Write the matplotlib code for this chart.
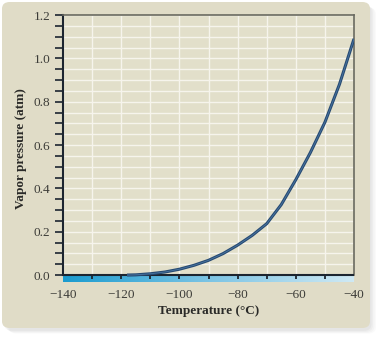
import matplotlib
matplotlib.use("Agg")
import matplotlib.pyplot as plt
import numpy as np
from matplotlib.patches import FancyBboxPatch
from matplotlib.colors import LinearSegmentedColormap

# Data
temps = [-118, -115, -110, -105, -100, -95, -90, -85, -80, -75, -70, -65, -60, -55, -50, -45, -40]
pressure = [0.0, 0.001, 0.006, 0.014, 0.027, 0.045, 0.068, 0.099, 0.138, 0.183, 0.237, 0.325, 0.44, 0.565, 0.705, 0.88, 1.09]
x_major = [-140, -120, -100, -80, -60, -40]
x_minor = [-140, -130, -120, -110, -100, -90, -80, -70, -60, -50, -40]
y_major = [0.0, 0.2, 0.4, 0.6, 0.8, 1.0, 1.2]
y_minor = list(np.round(np.arange(0, 1.2001, 0.05), 3))

W, H = 387, 338
fig = plt.figure(figsize=(W / 100, H / 100), dpi=100)
fig.patch.set_facecolor("white")

serif = ["Liberation Serif", "DejaVu Serif"]

# Shadow and panel
for i, a in enumerate([0.04, 0.05, 0.06, 0.07]):
    off = (4 - i) * 1.5
    sh = FancyBboxPatch(((3 + off) / W, 1 - (330 + off * 0.6) / H), (367) / W, (326) / H,
                        boxstyle="round,pad=0,rounding_size=0.02", transform=fig.transFigure,
                        facecolor="#888888", edgecolor="none", alpha=a, zorder=0)
    fig.patches.append(sh)
panel = FancyBboxPatch((2 / W, 1 - 328 / H), 368 / W, 326 / H,
                       boxstyle="round,pad=0,rounding_size=0.02", transform=fig.transFigure,
                       facecolor="#e0dcc7", edgecolor="none", zorder=1)
fig.patches.append(panel)

strip = 0.032
ax = fig.add_axes([63 / W, 1 - 282 / H, 291 / W, 267 / H])
ax.set_zorder(2)
ax.set_facecolor("#e2dfca")
ax.set_xlim(-140, -40)
ax.set_ylim(-strip, 1.2)

# Grid
for xv in x_minor:
    ax.axvline(xv, color="#f6f4ec", lw=1.0, zorder=1)
for yv in y_minor:
    ax.axhline(yv, color="#f6f4ec", lw=1.0, zorder=1)

# Gradient strip below zero
cmap = LinearSegmentedColormap.from_list("strip", ["#1a9bcf", "#7cc4e4", "#cfe9f4"])
grad = np.linspace(0, 1, 256).reshape(1, -1)
ax.imshow(grad, extent=[-140, -40, -strip, 0], aspect="auto", cmap=cmap, zorder=3)
ax.vlines(x_minor[1:-1], -strip * 0.55, 0, color="#1c2530", lw=1.3, zorder=4)
ax.axhline(0, color="#1c2530", lw=1.5, zorder=5)

# Curve
ax.plot(temps, pressure, color="#274a72", lw=2.2, zorder=6, solid_capstyle="butt",
        solid_joinstyle="round")
ax.plot(temps, pressure, color="#4a76a2", lw=0.6, zorder=7, solid_capstyle="butt",
        solid_joinstyle="round")

# Spines
for s in ["top", "right"]:
    ax.spines[s].set_color("#6a6a60")
    ax.spines[s].set_linewidth(1.2)
ax.spines["left"].set_color("#1c2530")
ax.spines["left"].set_linewidth(1.5)
ax.spines["left"].set_bounds(0, 1.2)
ax.spines["bottom"].set_visible(False)
ax.spines["right"].set_bounds(0, 1.2)

ax.set_yticks(y_major)
ax.set_yticks(y_minor, minor=True)
ax.set_yticklabels([f"{v:.1f}" for v in y_major])
ax.tick_params(axis="y", which="both", direction="out", length=6, width=1.2,
               color="#1c2530", pad=3, labelsize=9.5, labelcolor="#3c3c38")
ax.set_xticks(x_major)
ax.set_xticklabels(["\u2212" + str(abs(v)) for v in x_major])
ax.tick_params(axis="x", which="both", length=0, pad=5, labelsize=9.5, labelcolor="#3c3c38")
for lab in ax.get_xticklabels() + ax.get_yticklabels():
    lab.set_family(serif)

ax.set_xlabel("Temperature (\u00b0C)", fontsize=9.5, fontweight="bold", family=serif,
              color="#2a2a28", labelpad=3)
ax.set_ylabel("Vapor pressure (atm)", fontsize=9.5, fontweight="bold", family=serif,
              color="#2a2a28", labelpad=5)

fig.savefig("out.png", dpi=100, facecolor="white")
